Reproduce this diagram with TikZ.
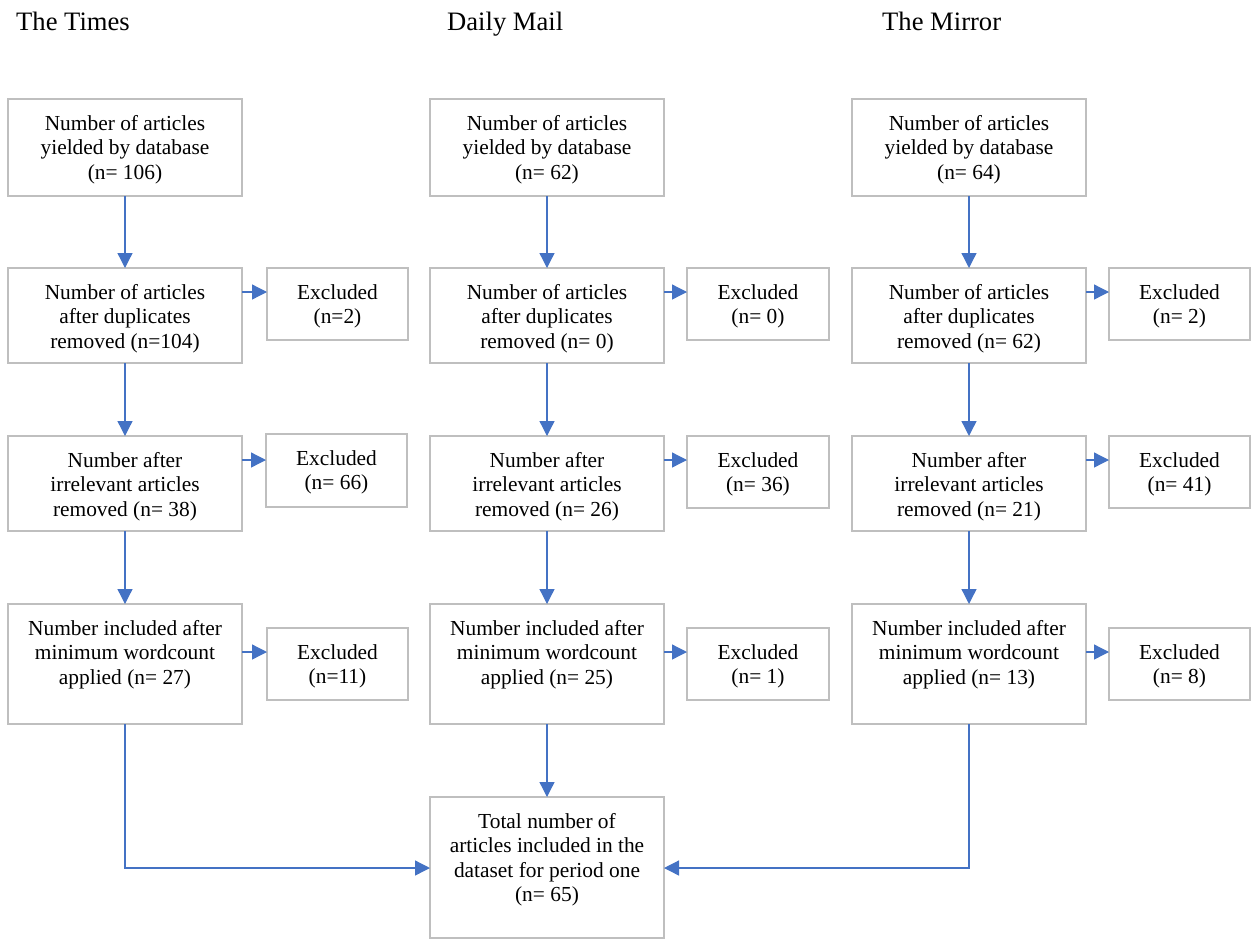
\documentclass[tikz,border=0pt]{standalone}
\usepackage{fontspec}
\setmainfont{Liberation Serif}
\usetikzlibrary{arrows.meta}
\definecolor{connblue}{HTML}{4472C4}
\definecolor{boxgray}{HTML}{BFBFBF}
\newcommand\mylines[1]{\begin{tabular}[t]{@{}c@{}}#1\end{tabular}}
\newcommand\bx[6]{%
  \node[box, anchor=north west, minimum width=#4pt, minimum height=#5pt] (#1) at (#2,#3) {};
  \node[txt] (#1t) at ([yshift=-31pt]#1.north) {\mylines{#6}};}
\begin{document}
\begin{tikzpicture}[x=1pt,y=-1pt,
  box/.style={draw=boxgray, line width=1.6pt, inner sep=0pt, outer sep=0pt},
  txt/.style={font=\fontsize{21.4}{24.5}\selectfont, inner sep=0pt, anchor=base},
  head/.style={font=\fontsize{26.6}{30}\selectfont, inner sep=0pt, anchor=base west},
  arr/.style={draw=connblue, line width=1.3pt, -{Triangle[length=15pt,width=15pt]}}]
\useasboundingbox (0,0) rectangle (1253,940);
% headers
\node[head] (h1) at (16,30) {The Times};
\node[head] (h2) at (447,30) {Daily Mail};
\node[head] (h3) at (882,30) {The Mirror};
% The Times
\bx{t1}{8}{99}{234}{97}{Number of articles\\yielded by database\\(n= 106)}
\bx{t2}{8}{268}{234}{95}{Number of articles\\after duplicates\\removed (n=104)}
\bx{t3}{8}{436}{234}{95}{Number after\\irrelevant articles\\removed (n= 38)}
\bx{t4}{8}{604}{234}{120}{Number included after\\minimum wordcount\\applied (n= 27)}
\bx{te2}{267}{268}{141}{72}{Excluded\\(n=2)}
\bx{te3}{266}{434}{141}{73}{Excluded\\(n= 66)}
\bx{te4}{267}{628}{141}{72}{Excluded\\(n=11)}
% Daily Mail
\bx{d1}{430}{99}{234}{97}{Number of articles\\yielded by database\\(n= 62)}
\bx{d2}{430}{268}{234}{95}{Number of articles\\after duplicates\\removed (n= 0)}
\bx{d3}{430}{436}{234}{95}{Number after\\irrelevant articles\\removed (n= 26)}
\bx{d4}{430}{604}{234}{120}{Number included after\\minimum wordcount\\applied (n= 25)}
\bx{de2}{687}{268}{142}{72}{Excluded\\(n= 0)}
\bx{de3}{687}{436}{142}{72}{Excluded\\(n= 36)}
\bx{de4}{687}{628}{142}{72}{Excluded\\(n= 1)}
% The Mirror
\bx{m1}{852}{99}{234}{97}{Number of articles\\yielded by database\\(n= 64)}
\bx{m2}{852}{268}{234}{95}{Number of articles\\after duplicates\\removed (n= 62)}
\bx{m3}{852}{436}{234}{95}{Number after\\irrelevant articles\\removed (n= 21)}
\bx{m4}{852}{604}{234}{120}{Number included after\\minimum wordcount\\applied (n= 13)}
\bx{me2}{1109}{268}{141}{72}{Excluded\\(n= 2)}
\bx{me3}{1109}{436}{141}{72}{Excluded\\(n= 41)}
\bx{me4}{1109}{628}{141}{72}{Excluded\\(n= 8)}
% Total
\bx{tot}{430}{797}{234}{141}{Total number of\\articles included in the\\dataset for period one\\(n= 65)}
% arrow levels
\coordinate (y2) at (0,292);
\coordinate (y3) at (0,460);
\coordinate (y4) at (0,652);
\coordinate (yt) at (0,868);
% arrows
\foreach \c in {t,d,m}{
  \draw[arr] (\c1.south) -- (\c2.north);
  \draw[arr] (\c2.south) -- (\c3.north);
  \draw[arr] (\c3.south) -- (\c4.north);
  \draw[arr] (\c2.east |- y2) -- (\c e2.west |- y2);
  \draw[arr] (\c3.east |- y3) -- (\c e3.west |- y3);
  \draw[arr] (\c4.east |- y4) -- (\c e4.west |- y4);
}
\draw[arr] (d4.south) -- (tot.north);
\draw[arr] (t4.south) |- (tot.west |- yt);
\draw[arr] (m4.south) |- (tot.east |- yt);
\end{tikzpicture}
\end{document}
